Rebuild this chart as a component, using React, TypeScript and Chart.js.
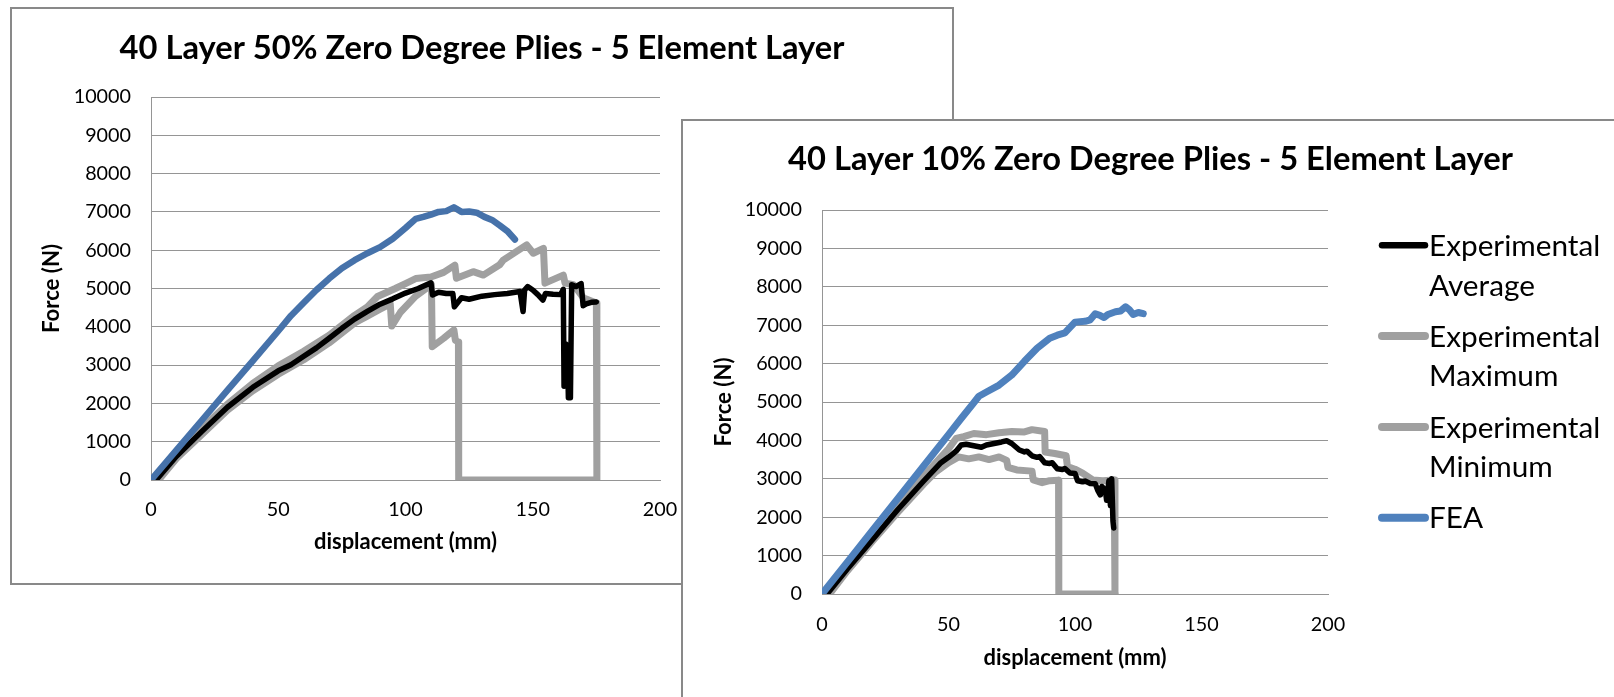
import React, { useEffect, useRef } from 'react';
import { Chart, registerables } from 'chart.js';

Chart.register(...registerables);

const FONT = 'Lato';

// ---- axis ranges / tick labels ----
const X_MIN = 0;
const X_MAX = 200;
const X_STEP = 50;
const Y_MIN = 0;
const Y_MAX = 10000;
const Y_STEP = 1000;
const X_LABEL = 'displacement (mm)';
const Y_LABEL = 'Force (N)';

// ---- series names (legend order) ----
const SERIES = ['Experimental Average', 'Experimental Maximum', 'Experimental Minimum', 'FEA'];

// ---- Left chart: 40 Layer 50% ----
const leftTitle = '40 Layer 50% Zero Degree Plies - 5 Element Layer';
const leftAvgX = [2, 10, 20, 30, 40, 50, 55, 60, 65, 70, 75, 80, 85, 90, 95, 100, 105, 110, 110.6, 113, 116, 118.6, 119.2, 122, 125, 130, 135, 140, 145, 146.2, 146.8, 148, 150, 152, 154, 155, 158, 161, 162, 162.3, 163, 163.6, 164, 164.8, 165.3, 167, 169, 169.8, 171, 173, 175];
const leftAvgY = [0, 620, 1270, 1900, 2420, 2850, 3010, 3230, 3450, 3700, 3960, 4200, 4400, 4590, 4730, 4880, 5000, 5150, 4830, 4900, 4870, 4870, 4520, 4760, 4720, 4800, 4840, 4870, 4920, 4400, 4960, 5050, 4960, 4840, 4700, 4870, 4850, 4840, 4980, 2450, 3550, 3500, 2150, 2150, 5100, 5050, 5130, 4550, 4600, 4640, 4650];
const leftMaxX = [2, 10, 20, 30, 40, 50, 60, 70, 80, 85, 89, 96, 100, 104, 110, 115, 119.4, 120, 126.6, 130.6, 137, 138.4, 147.6, 150.2, 154.2, 154.8, 162, 162.7, 166, 170, 175, 175.2];
const leftMaxY = [0, 700, 1350, 1980, 2520, 2980, 3360, 3780, 4300, 4520, 4790, 5000, 5130, 5260, 5300, 5420, 5610, 5270, 5440, 5350, 5620, 5740, 6140, 5920, 6050, 5140, 5350, 5140, 5100, 4750, 4620, 0];
const leftMinX = [3, 10, 20, 30, 40, 50, 60, 70, 80, 85, 90, 94, 94.6, 98, 104, 110.2, 110.5, 115, 119, 119.6, 120.8, 120.9, 175];
const leftMinY = [0, 560, 1190, 1820, 2330, 2760, 3140, 3580, 4100, 4280, 4460, 4600, 4020, 4380, 4800, 5100, 3480, 3700, 3920, 3650, 3600, 0, 0];
const leftFeaX = [0, 10, 20, 30, 40, 50, 55, 60, 65, 70, 75, 80, 85, 90, 95, 100, 104, 107, 110, 113, 116, 119, 122, 125, 128, 131, 134, 137, 140, 143];
const leftFeaY = [0, 780, 1560, 2340, 3110, 3890, 4290, 4630, 4960, 5260, 5530, 5740, 5920, 6080, 6300, 6580, 6820, 6870, 6930, 7000, 7020, 7120, 7000, 7010, 6980, 6870, 6790, 6650, 6500, 6280];

// ---- Right chart: 40 Layer 10% ----
const rightTitle = '40 Layer 10% Zero Degree Plies - 5 Element Layer';
const rightAvgX = [2, 10, 20, 30, 40, 47, 50, 53, 55, 57, 60, 63, 65, 68, 71, 73, 75, 78, 80, 81, 83, 85, 86, 88, 90, 91, 93, 95, 96, 98, 100, 101, 103, 104, 106, 108, 109, 110, 110.6, 112, 112.5, 113.4, 114, 114.5, 115, 115.3];
const rightAvgY = [0, 650, 1420, 2200, 2930, 3420, 3560, 3720, 3880, 3900, 3860, 3820, 3880, 3920, 3960, 3990, 3920, 3750, 3700, 3720, 3600, 3560, 3580, 3420, 3400, 3420, 3260, 3240, 3270, 3150, 3140, 2950, 2920, 2940, 2880, 2870, 2700, 2580, 2800, 2700, 2440, 2950, 2300, 3000, 1900, 1720];
const rightMaxX = [2, 10, 20, 30, 40, 45, 50, 53, 56, 60, 65, 70, 75, 80, 83, 88, 88.2, 92, 96.5, 97, 100, 103, 107, 111, 115.5, 115.8];
const rightMaxY = [0, 720, 1520, 2300, 3050, 3420, 3780, 4050, 4100, 4180, 4150, 4200, 4230, 4220, 4280, 4230, 3700, 3660, 3600, 3320, 3250, 3150, 2970, 2950, 2970, 0];
const rightMinX = [3, 10, 20, 30, 40, 45, 50, 54, 58, 62, 66, 70, 73, 73.5, 77, 83, 83.5, 87, 90, 93.5, 93.6, 115.8];
const rightMinY = [0, 600, 1380, 2130, 2850, 3180, 3420, 3570, 3520, 3570, 3500, 3570, 3480, 3300, 3230, 3200, 2970, 2900, 2950, 2960, 0, 0];
const rightFeaX = [0, 10, 20, 30, 40, 50, 55, 60, 62, 65, 70, 75, 80, 85, 90, 93, 96, 100, 104, 106, 108, 110, 111.5, 113, 116, 118, 120, 121.5, 123, 125, 127];
const rightFeaY = [0, 830, 1660, 2490, 3320, 4150, 4570, 4980, 5150, 5260, 5440, 5700, 6060, 6400, 6660, 6740, 6800, 7080, 7100, 7140, 7300, 7250, 7200, 7280, 7350, 7370, 7480, 7400, 7280, 7330, 7300];

const GRID = '#959595';
const DRAW_ORDER = [1, 3, 2, 0]; // FEA on top, then average, then grey envelopes

type LegendSpec = {
  x0: number; x1: number; inkLeft: number; firstBase: number; itemStep: number; lineStep: number; swatch: number[];
};

type Panel = {
  title: string;
  xs: number[][];
  ys: number[][];
  colors: string[];
  widths: number[];
  W: number; H: number;
  areaL: number; areaR: number; areaT: number; areaB: number;
  titleCY: number; tickGap: number; xTitleCY: number; yTitleCX: number;
  legend: LegendSpec | null;
};

const LEFT_PANEL: Panel = {
  title: leftTitle,
  xs: [leftAvgX, leftMaxX, leftMinX, leftFeaX],
  ys: [leftAvgY, leftMaxY, leftMinY, leftFeaY],
  colors: ['#000000', '#a0a0a0', '#a0a0a0', '#4672aa'],
  widths: [5.5, 7, 7, 6.5],
  W: 940, H: 574,
  areaL: 139, areaR: 648, areaT: 88, areaB: 471,
  titleCY: 40.2, tickGap: 30, xTitleCY: 533.2, yTitleCX: 42.2,
  legend: null,
};

const RIGHT_PANEL: Panel = {
  title: rightTitle,
  xs: [rightAvgX, rightMaxX, rightMinX, rightFeaX],
  ys: [rightAvgY, rightMaxY, rightMinY, rightFeaY],
  colors: ['#000000', '#a0a0a0', '#a0a0a0', '#4f81bd'],
  widths: [5.5, 7, 7, 7],
  W: 935, H: 576,
  areaL: 139, areaR: 645, areaT: 89, areaB: 473,
  titleCY: 39.8, tickGap: 31, xTitleCY: 537.3, yTitleCX: 42.8,
  legend: { x0: 699, x1: 742, inkLeft: 748, firstBase: 135, itemStep: 90.8, lineStep: 39.6, swatch: [6.5, 8, 8, 8] },
};

function fitFont(text: string, weight: string, target: number): number {
  const c = document.createElement('canvas').getContext('2d');
  if (!c) return 20;
  c.font = `${weight} 100px ${FONT}`;
  const m = c.measureText(text);
  const w = (m.actualBoundingBoxLeft + m.actualBoundingBoxRight) || m.width;
  return Math.round((100 * target / w) * 100) / 100;
}

function makeLegendPlugin(spec: LegendSpec, size: number) {
  return {
    id: 'sideLegend',
    afterDraw(chart: any) {
      const ctx = chart.ctx as CanvasRenderingContext2D;
      ctx.save();
      ctx.font = `normal ${size}px ${FONT}`;
      ctx.fillStyle = '#000';
      ctx.textAlign = 'left';
      ctx.textBaseline = 'alphabetic';
      chart.data.datasets.forEach((ds: any, i: number) => {
        const base = spec.firstBase + i * spec.itemStep;
        const lines = String(ds.label).split(' ');
        const m = ctx.measureText(lines[0]);
        const tx = spec.inkLeft + m.actualBoundingBoxLeft;
        const sy = base - 0.36 * size;
        ctx.strokeStyle = ds.borderColor;
        ctx.lineWidth = spec.swatch[i];
        ctx.lineCap = 'round';
        ctx.beginPath();
        ctx.moveTo(spec.x0, sy);
        ctx.lineTo(spec.x1, sy);
        ctx.stroke();
        lines.forEach((t, j) => ctx.fillText(t, tx, base + j * spec.lineStep));
      });
      ctx.restore();
    },
  };
}

function buildChart(canvas: HTMLCanvasElement, p: Panel): Chart {
  const sTitle = fitFont(p.title, 'bold', 725);
  const sTick = fitFont('10000', 'normal', 55.2);
  const sXT = fitFont(X_LABEL, 'bold', 181.7);
  const sYT = fitFont(Y_LABEL, 'bold', 86.7);
  const sLeg = fitFont('Experimental', 'normal', 166.7);

  const titlePT = p.titleCY - 0.629 * sTitle;
  const titlePB = p.areaT - titlePT - 1.2 * sTitle;
  const tickPad = p.tickGap - 0.629 * sTick;
  const xTitlePB = p.H - (p.xTitleCY - 0.027 * sXT) - 0.6 * sXT;
  const yTitlePT = p.yTitleCX - 0.087 * sYT - 0.6 * sYT;

  const tickFont = { family: FONT, size: sTick, weight: 'normal' as const, lineHeight: 1.2 };

  const datasets = SERIES.map((label, i) => ({
    label,
    data: p.xs[i].map((x, k) => ({ x, y: p.ys[i][k] })),
    borderColor: p.colors[i],
    backgroundColor: p.colors[i],
    borderWidth: p.widths[i],
    pointRadius: 0,
    pointHoverRadius: 0,
    tension: 0,
    fill: false,
    borderCapStyle: 'round' as const,
    borderJoinStyle: 'round' as const,
    order: DRAW_ORDER[i],
  }));

  const plugins: any[] = [];
  if (p.legend) plugins.push(makeLegendPlugin(p.legend, sLeg));

  return new Chart(canvas, {
    type: 'line',
    data: { datasets },
    options: {
      responsive: false,
      animation: false,
      devicePixelRatio: 1,
      events: [],
      layout: { padding: 0 },
      plugins: {
        legend: { display: false },
        tooltip: { enabled: false },
        title: {
          display: true,
          text: p.title,
          color: '#000',
          font: { family: FONT, size: sTitle, weight: 'bold', lineHeight: 1.2 },
          padding: { top: titlePT, bottom: titlePB },
        },
      },
      scales: {
        x: {
          type: 'linear',
          position: 'bottom',
          min: X_MIN,
          max: X_MAX,
          ticks: {
            stepSize: X_STEP,
            color: '#000',
            font: tickFont,
            padding: tickPad,
            maxRotation: 0,
            autoSkip: false,
            callback: (v: any) => String(v),
          },
          grid: { display: false, drawTicks: false },
          border: { display: true, color: GRID, width: 1 },
          title: {
            display: true,
            text: X_LABEL,
            color: '#000',
            font: { family: FONT, size: sXT, weight: 'bold', lineHeight: 1.2 },
            padding: { top: 0, bottom: xTitlePB },
          },
          afterFit: (s: any) => { s.height = p.H - p.areaB; },
        },
        y: {
          type: 'linear',
          position: 'left',
          min: Y_MIN,
          max: Y_MAX,
          ticks: {
            stepSize: Y_STEP,
            color: '#000',
            font: tickFont,
            padding: 20,
            autoSkip: false,
            callback: (v: any) => String(v),
          },
          grid: { display: true, color: GRID, lineWidth: 1, drawTicks: false },
          border: { display: true, color: GRID, width: 1 },
          title: {
            display: true,
            text: Y_LABEL,
            color: '#000',
            font: { family: FONT, size: sYT, weight: 'bold', lineHeight: 1.2 },
            padding: { top: yTitlePT, bottom: 0 },
          },
          afterFit: (s: any) => { s.width = p.areaL; },
        },
        pad: {
          type: 'linear',
          position: 'right',
          display: true,
          ticks: { display: false },
          grid: { display: false, drawTicks: false },
          border: { display: false },
          afterFit: (s: any) => { s.width = p.W - p.areaR; },
        },
      },
    } as any,
    plugins,
  });
}

export default function App() {
  const leftRef = useRef<HTMLCanvasElement>(null);
  const rightRef = useRef<HTMLCanvasElement>(null);

  useEffect(() => {
    const charts: Chart[] = [];
    if (leftRef.current) charts.push(buildChart(leftRef.current, LEFT_PANEL));
    if (rightRef.current) charts.push(buildChart(rightRef.current, RIGHT_PANEL));
    return () => charts.forEach((c) => c.destroy());
  }, []);

  const box: React.CSSProperties = {
    position: 'absolute',
    border: '2px solid #898989',
    boxSizing: 'border-box',
    background: '#fff',
  };

  return (
    <div style={{ position: 'fixed', inset: 0, overflow: 'hidden', background: '#fff' }}>
      <div style={{ ...box, left: 10, top: 7, width: 944, height: 578 }}>
        <canvas ref={leftRef} width={LEFT_PANEL.W} height={LEFT_PANEL.H} style={{ display: 'block', width: LEFT_PANEL.W, height: LEFT_PANEL.H }} />
      </div>
      <div style={{ ...box, left: 681, top: 119, width: 960, height: 620 }}>
        <canvas ref={rightRef} width={RIGHT_PANEL.W} height={RIGHT_PANEL.H} style={{ display: 'block', width: RIGHT_PANEL.W, height: RIGHT_PANEL.H }} />
      </div>
    </div>
  );
}
